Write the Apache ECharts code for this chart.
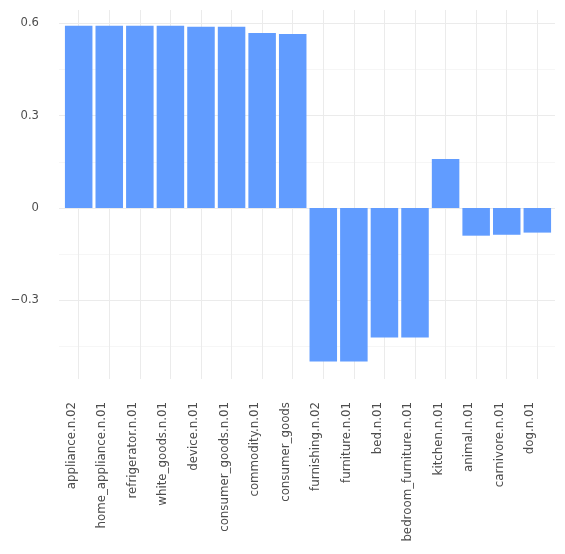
<!DOCTYPE html>
<html>
<head>
<meta charset="utf-8">
<script src="https://cdn.jsdelivr.net/npm/echarts@6/dist/echarts.min.js"></script>
<style>
  html, body { margin: 0; padding: 0; background: #fff; }
  #chart { width: 565px; height: 554px; }
</style>
</head>
<body>
<div id="chart"></div>
<script>
// categories, left to right
const categories = [
    'appliance.n.02', 'home_appliance.n.01', 'refrigerator.n.01', 'white_goods.n.01',
    'device.n.01', 'consumer_goods.n.01', 'commodity.n.01', 'consumer_goods',
    'furnishing.n.02', 'furniture.n.01', 'bed.n.01', 'bedroom_furniture.n.01',
    'kitchen.n.01', 'animal.n.01', 'carnivore.n.01', 'dog.n.01'
];
// bar values
const values = [
    0.592, 0.592, 0.592, 0.592,
    0.589, 0.589, 0.5685, 0.565,
    -0.499, -0.499, -0.421, -0.421,
    0.159, -0.090, -0.087, -0.080
];
// y ticks
const majorTicks = [-0.3, 0, 0.3, 0.6];
const minorTicks = [-0.45, -0.15, 0.15, 0.45];
const yMin = -0.5556;
const yMax = 0.6432;

const txtColor = '#4d4d4d';
const font = 'DejaVu Sans';

let myChart = echarts.init(document.getElementById('chart'), null, { renderer: 'canvas' });

let fmtY = (v)=>{
    if( Math.abs(v) < 1e-9 ) return '0';
    let s = Math.abs(v).toFixed(1);
    return v < 0 ? '\u2212' + s : s;
};

let option = {
    animation: false,
    backgroundColor: '#fff',
    grid: [
        // bars
        { left: 63.4, right: 12.4, top: 10, bottom: 175 },
        // panel (horizontal grid lines)
        { left: 59, right: 10, top: 10, bottom: 175 },
        // vertical grid lines at category centres
        { left: 78.7, right: 27.7, top: 10, bottom: 175 }
    ],
    xAxis: [
        {
            gridIndex: 0,
            type: 'category',
            data: categories,
            boundaryGap: true,
            axisLine: { show: false },
            axisTick: { show: false },
            splitLine: { show: false },
            axisLabel: {
                rotate: 90,
                interval: 0,
                margin: 23,
                align: 'right',
                verticalAlign: 'bottom',
                lineHeight: 14,
                color: txtColor,
                fontFamily: font,
                fontSize: 11.8
            }
        },
        {
            gridIndex: 1,
            type: 'value',
            show: false
        },
        {
            gridIndex: 2,
            type: 'category',
            data: categories,
            boundaryGap: false,
            axisLine: { show: false },
            axisTick: { show: false },
            axisLabel: { show: false },
            splitLine: { show: true, interval: 0, lineStyle: { color: '#ebebeb', width: 1 } }
        }
    ],
    yAxis: [
        {
            gridIndex: 0,
            type: 'value',
            min: yMin,
            max: yMax,
            show: false
        },
        {
            gridIndex: 1,
            type: 'value',
            min: yMin,
            max: yMax,
            axisLine: { show: false },
            axisTick: { show: false, customValues: majorTicks },
            axisLabel: {
                customValues: majorTicks,
                formatter: fmtY,
                margin: 20,
                color: txtColor,
                fontFamily: font,
                fontSize: 11.6
            },
            splitLine: { show: true, lineStyle: { color: '#ebebeb', width: 1 } }
        },
        {
            gridIndex: 1,
            type: 'value',
            min: yMin,
            max: yMax,
            position: 'left',
            axisLine: { show: false },
            axisTick: { show: false, customValues: minorTicks },
            axisLabel: { show: false, customValues: minorTicks },
            splitLine: { show: true, lineStyle: { color: '#f6f6f6', width: 1 } }
        },
        {
            gridIndex: 2,
            type: 'value',
            min: yMin,
            max: yMax,
            show: false
        }
    ],
    series: [{
        name: 'value',
        type: 'bar',
        xAxisIndex: 0,
        yAxisIndex: 0,
        data: values,
        barCategoryGap: '10%',
        itemStyle: { color: '#619CFF' }
    }]
};

myChart.setOption( option );
</script>
</body>
</html>
